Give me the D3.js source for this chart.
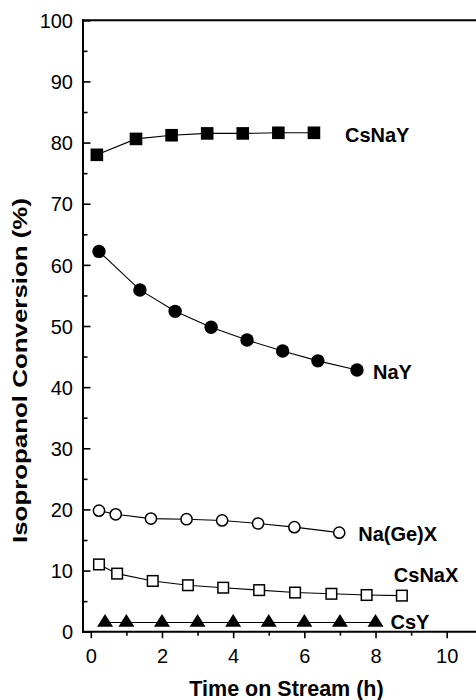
<!DOCTYPE html>
<html>
<head>
<meta charset="utf-8">
<script src="https://cdn.jsdelivr.net/npm/d3@7"></script>
<style>
  html, body { margin: 0; padding: 0; background: #fff; }
  svg { display: block; }
  text { font-family: "Liberation Sans", Arial, Helvetica, sans-serif; fill: #000; }
</style>
</head>
<body>
<svg id="chart" width="476" height="700"></svg>
<script>
// ---- data ----
const xTicksMajor = [0, 2, 4, 6, 8, 10];
const xTicksMinor = [1, 3, 5, 7, 9];
const yTicksMajor = [0, 10, 20, 30, 40, 50, 60, 70, 80, 90, 100];
const yTicksMinor = [5, 15, 25, 35, 45, 55, 65, 75, 85, 95];

const seriesNames = ["CsNaY", "NaY", "Na(Ge)X", "CsNaX", "CsY"];

const csnayX = [0.17, 1.27, 2.27, 3.27, 4.27, 5.27, 6.27];
const csnayY = [78.0, 80.6, 81.2, 81.5, 81.5, 81.6, 81.6];

const nayX = [0.23, 1.38, 2.37, 3.38, 4.39, 5.39, 6.38, 7.48];
const nayY = [62.2, 55.9, 52.4, 49.8, 47.7, 45.9, 44.3, 42.8];

const nagexX = [0.23, 0.70, 1.69, 2.69, 3.69, 4.70, 5.72, 6.98];
const nagexY = [19.8, 19.2, 18.5, 18.4, 18.2, 17.7, 17.1, 16.2];

const csnaxX = [0.23, 0.74, 1.74, 2.73, 3.72, 4.73, 5.74, 6.76, 7.75, 8.74];
const csnaxY = [11.0, 9.5, 8.3, 7.6, 7.2, 6.8, 6.4, 6.2, 6.0, 5.9];

const csyX = [0.4, 1, 2, 3, 4, 5, 6, 7, 8];
const csyY = [1.5, 1.5, 1.5, 1.5, 1.5, 1.5, 1.5, 1.5, 1.5];

const xTitle = "Time on Stream (h)";
const yTitle = "Isopropanol Conversion (%)";

// ---- layout ----
const svg = d3.select("#chart");
const axisX0 = 83, plotTop = 20.3, plotBottom = 631.7, rightEdge = 477;

const x = d3.scaleLinear().domain([0, 10]).range([90.8, 446.7]);
const y = d3.scaleLinear().domain([0, 100]).range([plotBottom, plotTop]);

// y axis ticks (inward)
const gy = svg.append("g").attr("transform", `translate(${axisX0},0)`);
gy.call(d3.axisLeft(y).tickValues(yTicksMajor).tickSize(-7.5).tickPadding(10).tickFormat(d3.format("d")));
gy.append("g").call(d3.axisLeft(y).tickValues(yTicksMinor).tickSize(-4.5).tickFormat(""));
gy.selectAll(".domain").remove();
gy.selectAll("line").attr("stroke", "#000").attr("stroke-width", 1.6);
gy.selectAll("text").style("font-size", "20px").attr("dy", "0.36em");

// x axis ticks (outward)
const gx = svg.append("g").attr("transform", `translate(0,${plotBottom})`);
gx.call(d3.axisBottom(x).tickValues(xTicksMajor).tickSize(6.5).tickPadding(10.5).tickFormat(d3.format("d")));
gx.append("g").call(d3.axisBottom(x).tickValues(xTicksMinor).tickSize(4).tickFormat(""));
gx.selectAll(".domain").remove();
gx.selectAll("line").attr("stroke", "#000").attr("stroke-width", 1.6);
gx.selectAll("text").style("font-size", "20px");

// frame lines
svg.append("line").attr("x1", axisX0).attr("x2", axisX0).attr("y1", plotTop - 1).attr("y2", plotBottom + 1)
  .attr("stroke", "#000").attr("stroke-width", 2);
svg.append("line").attr("x1", axisX0 - 1).attr("x2", rightEdge).attr("y1", plotTop).attr("y2", plotTop)
  .attr("stroke", "#000").attr("stroke-width", 2);
svg.append("line").attr("x1", axisX0 - 1).attr("x2", rightEdge).attr("y1", plotBottom).attr("y2", plotBottom)
  .attr("stroke", "#000").attr("stroke-width", 2);

// axis titles
svg.append("text")
  .attr("x", (193 + 380) / 2).attr("y", 696)
  .attr("text-anchor", "middle")
  .style("font-size", "21.5px").style("font-weight", "bold")
  .text(xTitle);

svg.append("text")
  .attr("transform", "translate(26.8,370.5) rotate(-90)")
  .attr("text-anchor", "middle")
  .attr("textLength", 345).attr("lengthAdjust", "spacingAndGlyphs")
  .style("font-size", "19.5px").style("font-weight", "bold")
  .text(yTitle);

// ---- series ----
const series = [
  { name: seriesNames[0], xs: csnayX, ys: csnayY, shape: "square", fill: "#000", size: 12.6, dx: 31, dy: 9 },
  { name: seriesNames[1], xs: nayX, ys: nayY, shape: "circle", fill: "#000", size: 6.7, dx: 16, dy: 8.5 },
  { name: seriesNames[2], xs: nagexX, ys: nagexY, shape: "circle", fill: "#fff", size: 5.6, dx: 19, dy: 8 },
  { name: seriesNames[3], xs: csnaxX, ys: csnaxY, shape: "square", fill: "#fff", size: 10.6, dx: -8, dy: -14 },
  { name: seriesNames[4], xs: csyX, ys: csyY, shape: "triangle", fill: "#000", size: 16, dx: 15, dy: 6.6 }
];

const line = d3.line().x(d => x(d[0])).y(d => y(d[1]));

series.forEach(s => {
  const pts = s.xs.map((v, i) => [v, s.ys[i]]);
  const g = svg.append("g");
  g.append("path").attr("d", line(pts)).attr("fill", "none").attr("stroke", "#000").attr("stroke-width", 1.1);
  pts.forEach(p => {
    const cx = x(p[0]), cy = y(p[1]);
    if (s.shape === "circle") {
      g.append("circle").attr("cx", cx).attr("cy", cy).attr("r", s.size)
        .attr("fill", s.fill).attr("stroke", "#000").attr("stroke-width", s.fill === "#fff" ? 1.5 : 0);
    } else if (s.shape === "square") {
      g.append("rect").attr("x", cx - s.size / 2).attr("y", cy - s.size / 2)
        .attr("width", s.size).attr("height", s.size)
        .attr("fill", s.fill).attr("stroke", "#000").attr("stroke-width", s.fill === "#fff" ? 1.5 : 0);
    } else {
      const w = s.size, h = 12.7;
      const pth = `M${cx},${cy - h * 2 / 3} L${cx + w / 2},${cy + h / 3} L${cx - w / 2},${cy + h / 3} Z`;
      g.append("path").attr("d", pth).attr("fill", s.fill);
    }
  });
  const last = pts[pts.length - 1];
  svg.append("text")
    .attr("x", x(last[0]) + s.dx).attr("y", y(last[1]) + s.dy)
    .style("font-size", "20px").style("font-weight", "bold")
    .text(s.name);
});
</script>
</body>
</html>
